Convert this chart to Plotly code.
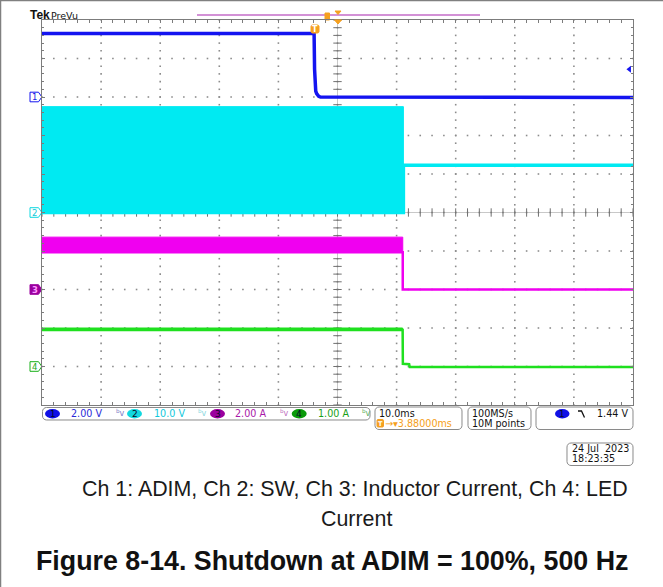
import numpy as np
import plotly.graph_objects as go

W, H = 663, 587
# graticule box in page pixels
GX0, GX1, GY0, GY1 = 42, 633, 20, 405
DIV_H = (GY1 - GY0) / 10.0

# timebase: 10 ms/div over 10 divisions, trigger 3.88 ms left of centre
ms_per_div = 10.0
trig_offset_ms = 3.88
t_left = -5 * ms_per_div + trig_offset_ms
t_right = 5 * ms_per_div + trig_offset_ms

# vertical settings per channel: units/div and ground position (div from centre)
ch_names = ["1", "2", "3", "4"]
ch_scale = [2.0, 10.0, 2.0, 1.0]
ch_units = ["V", "V", "A", "A"]
ch_pos = [3.0, 0.0, -2.0, -4.0]
trig_level_v = 1.44

# Ch1: ADIM (V)
t_ch1 = [-46.12, -0.08, 0.0, 0.1, 0.2, 0.35, 0.5, 0.7, 1.0, 53.88]
v_ch1 = [3.30, 3.30, 1.44, 0.50, 0.30, 0.18, 0.10, 0.04, 0.00, -0.02]

# Ch2: SW node (V), switching envelope then output level
t_ch2 = [-46.12, 15.03, 15.03, 53.88]
v_ch2_hi = [27.5, 27.5, 12.3, 12.3]
v_ch2_lo = [0.0, 0.0, 12.3, 12.3]

# Ch3: inductor current (A), ripple envelope
t_ch3 = [-46.12, 14.92, 14.92, 53.88]
i_ch3_hi = [2.72, 2.72, 0.0, 0.0]
i_ch3_lo = [1.94, 1.94, 0.0, 0.0]

# Ch4: LED current (A), ripple envelope
t_ch4 = [-46.12, 14.90, 14.94, 16.0, 16.1, 53.88]
i_ch4_hi = [1.00, 1.00, 0.07, 0.06, -0.01, -0.01]
i_ch4_lo = [0.95, 0.95, 0.07, 0.06, -0.01, -0.01]

C1, C2, C3, C4 = "#1414f0", "#00eaf2", "#f000f0", "#1fe01f"
ORANGE = "#f5a020"
GRID = "#8c8c8c"
FRAME = "#7c7c7c"


def px(x, y):
    return x / W, 1 - y / H


def ppath(points, close=True):
    s = ""
    for k, (x, y) in enumerate(points):
        u, v = px(x, y)
        s += ("M" if k == 0 else "L") + f"{u:.5f},{v:.5f} "
    return s + ("Z" if close else "")


def rrect(x0, y0, x1, y1, r):
    pts = []
    for cx, cy, a0 in ((x1 - r, y0 + r, -90), (x1 - r, y1 - r, 0),
                       (x0 + r, y1 - r, 90), (x0 + r, y0 + r, 180)):
        for a in np.linspace(a0, a0 + 90, 5):
            pts.append((cx + r * np.cos(np.radians(a)), cy + r * np.sin(np.radians(a))))
    return ppath(pts)


fig = go.Figure()

# graticule dots every 1/5 division
gx, gy = [], []
for k in range(1, 10):
    for j in range(51):
        gx.append(t_left + k * ms_per_div)
        gy.append(-5 + j * 0.2)
        gx.append(t_left + j * ms_per_div / 5)
        gy.append(-5 + k)


def envelope(t, lo, hi, axis, color, w_lo):
    fig.add_trace(go.Scatter(x=t, y=lo, yaxis=axis, mode="lines",
                             line=dict(color=color, width=w_lo), hoverinfo="skip"))
    fig.add_trace(go.Scatter(x=t, y=hi, yaxis=axis, mode="lines", fill="tonexty",
                             fillcolor=color, line=dict(color=color, width=1), hoverinfo="skip"))


envelope(t_ch2, v_ch2_lo, v_ch2_hi, "y3", C2, 3.5)
envelope(t_ch3, i_ch3_lo, i_ch3_hi, "y4", C3, 2.5)
envelope(t_ch4, i_ch4_lo, i_ch4_hi, "y5", C4, 2.5)
fig.add_trace(go.Scatter(x=t_ch1, y=v_ch1, yaxis="y2", mode="lines",
                         line=dict(color=C1, width=3.5), hoverinfo="skip"))

# grid dots
fig.add_trace(go.Scatter(x=gx, y=gy, mode="markers", hoverinfo="skip",
                         marker=dict(symbol="square", size=1.6, color=GRID, line=dict(width=0))))
# centre cross ticks
tc = t_left + 5 * ms_per_div
vy = [-5 + j * 0.2 for j in range(51)]
hx = [t_left + j * ms_per_div / 5 for j in range(51)]
fig.add_trace(go.Scatter(x=[tc] * len(vy), y=vy, mode="markers", hoverinfo="skip",
                         marker=dict(symbol="line-ew", size=6, line=dict(width=1, color="#707070"))))
fig.add_trace(go.Scatter(x=hx, y=[0] * len(hx), mode="markers", hoverinfo="skip",
                         marker=dict(symbol="line-ns", size=6, line=dict(width=1, color="#707070"))))

# trigger level indicator on the right edge
fig.add_trace(go.Scatter(x=[t_right - 0.6], y=[trig_level_v], yaxis="y2", mode="markers",
                         cliponaxis=False, hoverinfo="skip",
                         marker=dict(symbol="triangle-left", size=6, color=C1)))

axis_common = dict(showticklabels=False, showgrid=False, zeroline=False, fixedrange=True,
                   showline=True, linecolor=FRAME, linewidth=1, mirror="allticks",
                   ticks="inside", ticklen=3, tickcolor=FRAME)
layout = dict(
    width=W, height=H, margin=dict(l=0, r=0, t=0, b=0),
    paper_bgcolor="white", plot_bgcolor="white", showlegend=False,
    xaxis=dict(domain=[GX0 / W, GX1 / W], range=[t_left, t_right], tick0=t_left,
               dtick=ms_per_div,
               minor=dict(tick0=t_left, dtick=ms_per_div / 5, ticks="inside", ticklen=2,
                          tickcolor=FRAME),
               **axis_common),
    yaxis=dict(domain=[1 - GY1 / H, 1 - GY0 / H], range=[-5, 5], tick0=-5, dtick=1,
               minor=dict(tick0=-5, dtick=0.2, ticks="inside", ticklen=2, tickcolor=FRAME),
               **axis_common),
)
for i in range(4):
    s, p = ch_scale[i], ch_pos[i]
    layout[f"yaxis{i + 2}"] = dict(overlaying="y", anchor="x", visible=False,
                                   range=[(-5 - p) * s, (5 - p) * s], fixedrange=True)
fig.update_layout(**layout)

shapes = []
ann = []


def text(x, y, s, size, color, anchor="left", family="DejaVu Sans", bold=False):
    u, v = px(x, y)
    ann.append(dict(x=u, y=v, xref="paper", yref="paper", text=f"<b>{s}</b>" if bold else s,
                    showarrow=False, xanchor=anchor, yanchor="middle", borderpad=0,
                    font=dict(family=family, size=size, color=color)))


def line(x0, y0, x1, y1, color, width):
    u0, v0 = px(x0, y0)
    u1, v1 = px(x1, y1)
    shapes.append(dict(type="line", xref="paper", yref="paper", x0=u0, y0=v0, x1=u1, y1=v1,
                       line=dict(color=color, width=width), layer="below"))


def path(p, fill, lc, lw=1, layer="below"):
    shapes.append(dict(type="path", xref="paper", yref="paper", path=p, fillcolor=fill,
                       line=dict(color=lc, width=lw), layer=layer))


def ellipse(x0, y0, x1, y1, fill):
    u0, v0 = px(x0, y0)
    u1, v1 = px(x1, y1)
    shapes.append(dict(type="circle", xref="paper", yref="paper", x0=u0, y0=v1, x1=u1, y1=v0,
                       fillcolor=fill, line=dict(width=0), layer="below"))


# page frame
line(0, 0.5, W, 0.5, "#808080", 1.5)
line(0.5, 0, 0.5, H, "#808080", 1.5)

# centre lines
cx_px = (GX0 + GX1) / 2
cy_px = (GY0 + GY1) / 2
line(cx_px, GY0, cx_px, GY1, "#c8c8c8", 1)
line(GX0, cy_px, GX1, cy_px, "#c8c8c8", 1)

# header
text(29, 15.5, "Tek", 12, "#111111", family="Liberation Sans", bold=True)
text(50, 15, "PreVu", 9.5, "#111111")
line(197, 15, 480, 15, "#c46cc8", 1.5)
path(ppath([(325, 13), (329.5, 13), (329.5, 20), (325, 20)]), ORANGE, ORANGE)
path(ppath([(335, 11), (341, 11), (338, 14.5)]), ORANGE, ORANGE)
path(ppath([(334.5, 20), (341.5, 20), (338, 24)]), ORANGE, ORANGE, layer="above")

# trigger point marker on ch1
path(rrect(311, 25, 319, 33, 1.5), ORANGE, ORANGE, layer="above")
text(315, 29.3, "T", 8, "#ffffff", anchor="center", bold=True)

# channel ground markers
mk_style = [("#ffffff", C1, "#2020e0"), ("#ffffff", "#10d8e0", "#10c8d8"),
            ("#9a009e", "#9a009e", "#ff9cff"), ("#ffffff", "#18b018", "#18a818")]
for i in range(4):
    yc = GY0 + (5 - ch_pos[i]) * DIV_H
    fill, edge, tc_ = mk_style[i]
    path(ppath([(30, yc - 4.8), (38.5, yc - 4.8), (41.8, yc), (38.5, yc + 4.8), (30, yc + 4.8)]),
         fill, edge, 1)
    text(34.6, yc + 0.3, ch_names[i], 8.5, tc_, anchor="center", bold=(i == 2))

# status bar
path(rrect(42.5, 407.5, 370, 420, 4), "rgba(0,0,0,0)", "#8a8a8a", 1)
badge_x = [45, 127, 210, 291.7]
val_x = [70, 152.5, 233.5, 316.5]
icon_x = [114.5, 196.5, 279, 361.5]
badge_fill = ["#1010e6", "#10d8e0", "#9a009e", "#0a9a0a"]
val_col = ["#2a2ad8", "#10c8dc", "#a818a8", "#18a018"]
icon_col = ["#7c7cc8", "#8ad8e0", "#c070c0", "#60b060"]
for i in range(4):
    ellipse(badge_x[i], 409, badge_x[i] + 15, 418.5, badge_fill[i])
    text(badge_x[i] + 7.5, 413.9, ch_names[i], 9, "#0a0a28", anchor="center")
    text(val_x[i], 413.9, f"{ch_scale[i]:.2f} {ch_units[i]}" if ch_scale[i] < 10
         else f"{ch_scale[i]:.1f} {ch_units[i]}", 9.6, val_col[i])
    text(icon_x[i], 413, "<sup>b</sup>v", 8, icon_col[i])

path(rrect(375, 407, 462, 429.5, 4), "rgba(0,0,0,0)", "#8a8a8a", 1)
text(378, 413.5, "10.0ms", 9.6, "#111111")
path(rrect(377, 419.5, 383.5, 427, 1), ORANGE, ORANGE)
text(380.3, 423.6, "T", 6.5, "#ffffff", anchor="center", bold=True)
text(384, 423.6, "→▾3.88000ms", 9.6, ORANGE)

path(rrect(468, 407, 531, 429.5, 4), "rgba(0,0,0,0)", "#8a8a8a", 1)
text(471, 413.5, "100MS/s", 9.6, "#111111")
text(471, 423.6, "10M points", 9.6, "#111111")

path(rrect(536, 407, 633, 429.5, 4), "rgba(0,0,0,0)", "#8a8a8a", 1)
ellipse(555, 409, 569.5, 418.5, "#1010e6")
text(562.2, 413.9, "1", 9, "#0a0a28", anchor="center")
path(ppath([(578, 411), (581.5, 411), (584.5, 417.5)], close=False), "rgba(0,0,0,0)", "#111111", 1.3)
text(628.5, 413.5, f"{trig_level_v:.2f} V", 9.6, "#111111", anchor="right")

path(rrect(567, 443, 633, 465.5, 4), "rgba(0,0,0,0)", "#8a8a8a", 1)
text(570.5, 448.8, "24 Jul  2023", 9.6, "#111111")
text(570.5, 458.6, "18:23:35", 9.6, "#111111")

# caption and figure title
text(355, 488.5, "Ch 1: ADIM, Ch 2: SW, Ch 3: Inductor Current, Ch 4: LED", 21.4, "#1a1a1a",
     anchor="center", family="Liberation Sans, Arial")
text(356, 518.5, "Current", 21.4, "#1a1a1a", anchor="center", family="Liberation Sans, Arial")
text(331.5, 561, "Figure 8-14. Shutdown at ADIM = 100%, 500 Hz", 26.8, "#111111",
     anchor="center", family="Liberation Sans, Arial", bold=True)

fig.update_layout(shapes=shapes, annotations=ann)
fig.write_html("out.html")
